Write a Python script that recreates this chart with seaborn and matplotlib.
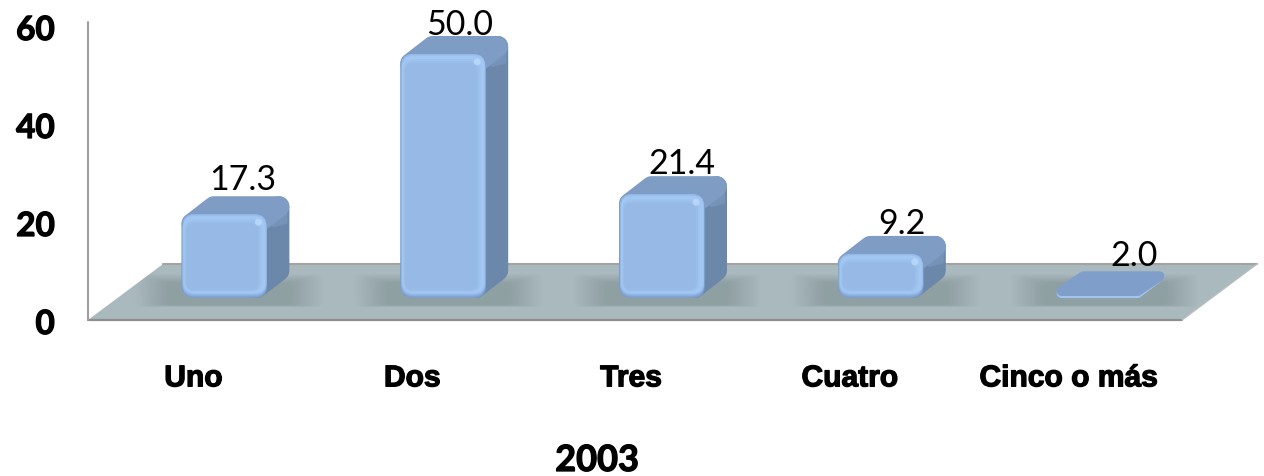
import pandas as pd
import seaborn as sns
import matplotlib.pyplot as plt
import matplotlib.patheffects as pe
from matplotlib.patches import FancyBboxPatch, Polygon, Circle
from matplotlib.transforms import IdentityTransform

categorias = ["Uno", "Dos", "Tres", "Cuatro", "Cinco o más"]
valores = [17.3, 50.0, 21.4, 9.2, 2.0]
ticks = [0, 20, 40, 60]
titulo = "2003"

# label nudges relative to the bar top (pixels)
label_dx = [18, 16, 20, 21, 34]
label_dy = [16, 11, 12, 12, 15]

W, H = 1264, 476
df = pd.DataFrame({"hijos": categorias, "pct": valores})

sns.set_style("white")
plt.rcParams["font.family"] = ["Lato", "DejaVu Sans"]

fig = plt.figure(figsize=(W / 100, H / 100), dpi=100, facecolor="white")
ident = IdentityTransform()
heavy = [pe.withStroke(linewidth=0.9, foreground="black")]


def up(y):
    return H - y


# axes with the tick labels
ax = fig.add_axes([84 / W, up(322) / H, 1094 / W, 294 / H])
ax.set_xlim(-0.5, 4.5)
ax.set_ylim(0, 60)
ax.set_xticks(range(5))
ax.set_xticklabels(categorias, family="Liberation Sans", weight="bold", fontsize=21.6, color="black",
                   path_effects=heavy)
ax.set_yticks(ticks)
ax.set_yticklabels([str(t) for t in ticks], weight="bold", fontsize=24, color="black", path_effects=heavy)
ax.tick_params(axis="both", length=0)
ax.tick_params(axis="x", pad=30.5)
ax.tick_params(axis="y", pad=21)
for s in ax.spines.values():
    s.set_visible(False)
ax.patch.set_alpha(0)
ax.set_xlabel(titulo, weight="bold", fontsize=26, color="black", path_effects=heavy)
ax.xaxis.set_label_coords((597 - 84) / 1094, -(444 - 322) / 294)

# floor and wall line
floor_pts = [(88, up(320)), (163, up(264)), (1257, up(264)), (1182, up(320))]
floor = Polygon(floor_pts, closed=True, facecolor="#AAB9BD", edgecolor="none",
                transform=ident, clip_on=False, zorder=1)
ax.add_patch(floor)
ax.plot([163, 1257], [up(264), up(264)], color="#A3A3A3", lw=1.5, transform=ident, clip_on=False, zorder=2)
ax.plot([88, 1182], [up(320), up(320)], color="#8E8E8E", lw=1.6, transform=ident, clip_on=False, zorder=2)
ax.plot([1182, 1257], [up(320), up(264)], color="#B5BFC2", lw=1, transform=ident, clip_on=False, zorder=2)
ax.plot([88, 88], [up(320), up(22)], color="#A0A0A0", lw=1.5, transform=ident, clip_on=False, zorder=2)

# bars live on their own axes, shifted onto the floor
bar_ax = fig.add_axes([115 / W, up(298) / H, 1094 / W, 294 / H], zorder=3)
sns.barplot(data=df, x="hijos", y="pct", color="#7C9ECD", saturation=1, width=0.393, linewidth=0, ax=bar_ax)
bar_ax.set_xlim(-0.5, 4.5)
bar_ax.set_ylim(0, 60)
bar_ax.set_axis_off()

dx, dy = 22, 17

# bevel steps of the front face: inset left, bottom, right, top and colour
bevel = [(1, 1, 1, 1, "#82A4D3"), (1, 2, 1, 1, "#8BAEDD"), (1, 3, 1, 1, "#94B8E6"), (2, 4, 1, 2, "#9DC1EE"),
         (2, 5, 2, 3, "#A3C7F3"), (3, 6, 5, 6, "#9FC3EF"), (4, 7, 7, 8, "#9ABEEA"), (5, 8, 9, 10, "#96B9E5")]


def rbox(x0, y0, x1, y1, r, color, z, alpha=1.0):
    p = FancyBboxPatch((x0 + r, y0 + r), x1 - x0 - 2 * r, y1 - y0 - 2 * r,
                       boxstyle=f"round,pad={r},rounding_size={r}", facecolor=color,
                       edgecolor="none", alpha=alpha, transform=ident, clip_on=False, zorder=z)
    bar_ax.add_patch(p)
    return p


def rpoly(pts, r, color, z):
    p = Polygon(pts, closed=True, facecolor=color, edgecolor=color, lw=2 * r * 0.72,
                joinstyle="round", transform=ident, clip_on=False, zorder=z)
    bar_ax.add_patch(p)
    return p


for i, bar in enumerate(bar_ax.patches):
    e = bar.get_window_extent()
    x0, x1, yb, yt = e.x0, e.x1, e.y0, e.y1
    h = yt - yb
    short = h < 15
    cx = (x0 + x1) / 2 + 5

    # soft shadow on the floor
    for k in range(14):
        sh = rbox(cx - 94 + k * 2.5, up(307) + k * 0.15, cx + 94 - k * 2.5, up(274) - k * 0.7, 5, "#667A7C", 1.5, 0.022)
        sh.set_clip_path(floor)
        sh.set_clip_box(None)
        sh.set_clip_on(True)

    if short:
        # almost flat bar: the top face takes nearly everything
        r = 5
        strip = [(x0 + r, yb + r), (x0 + dx + r, yt + dy - r), (x1 + dx - r, yt + dy - r), (x1 - r, yb + r)]
        rpoly(strip, r, "#A4C5EF", 2.5)
        rpoly([(px, py + 2) for px, py in strip[:1]] + strip[1:3] + [(strip[3][0], strip[3][1] + 2)], r, "#7F9FCA", 4)
        bar.set_zorder(2)
        bar.set_clip_path(rbox(x0, yb, x1, yb + 6, 3, "none", 2))
    else:
        r = min(13, h / 3)
        rs = r * 0.8
        rpoly([(x1 - rs, yt - rs), (x1 + dx - rs, yt + dy - rs), (x1 + dx - rs, yb + dy + rs), (x1 - rs, yb + rs)],
              rs, "#6B88AB", 2)
        rpoly([(x1 + dx - 12, yt + dy - 8), (x1 + dx - 4, yt + dy - 14), (x1 + dx - 4, yt + dy - 26), (x1 + 6, yt - 12)],
              2, "#7593B8", 2.1)
        rpoly([(x0 + rs, yt - rs), (x0 + dx + rs, yt + dy - rs), (x1 + dx - rs, yt + dy - rs), (x1 - rs, yt - rs)],
              rs, "#7E9CC4", 2.2)
        # front face, seaborn's rectangle clipped to a rounded box, bevel on top
        bar.set_zorder(3)
        bar.set_clip_path(rbox(x0, yb, x1, yt, r, "none", 3))
        for j, (il, ib, ir, it, col) in enumerate(bevel):
            rbox(x0 + il, yb + ib, x1 - ir, yt - it, max(r - il, 2), col, 3.1 + j * 0.05)
        bar_ax.add_patch(Circle((x1 - 9, yt - 9), 3.5, facecolor="#BCDAFB", edgecolor="none", alpha=0.8,
                                transform=ident, clip_on=False, zorder=3.6))

    bar_ax.text(x0 + 43 + label_dx[i], yt + dy + label_dy[i], f"{valores[i]:.1f}", transform=ident,
                ha="center", va="center", fontsize=24.5, color="black", zorder=6)

fig.savefig("out.png", dpi=100)
